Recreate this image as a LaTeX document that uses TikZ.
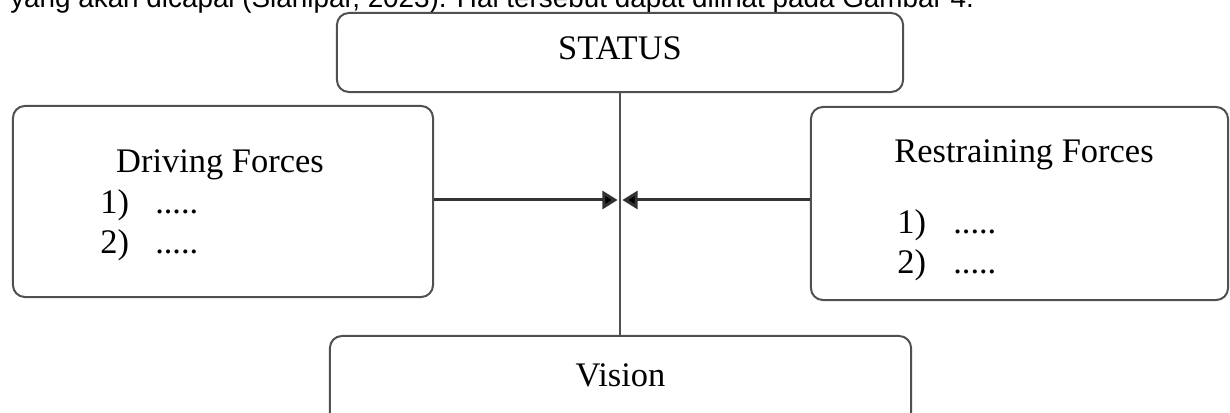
\documentclass[tikz,border=0pt]{standalone}
\usepackage{fontspec}
\setmainfont{Liberation Serif}
\newfontfamily\capfont{Liberation Sans}
\usetikzlibrary{arrows.meta}
\definecolor{boxgray}{HTML}{505050}
\definecolor{forcegray}{HTML}{333333}

\begin{document}
\begin{tikzpicture}[x=0.025cm,y=-0.025cm,
    box/.style={draw=boxgray,line width=0.05cm,rounded corners=0.3cm,inner sep=0pt,text depth=0.2cm},
    txt/.style={font=\fontsize{24.5}{29}\selectfont},
    force/.style={draw=forcegray,line width=0.075cm,-{Triangle[length=0.38cm,width=0.45cm,fill=black]},shorten >=0.06cm},
    axis/.style={draw=boxgray,line width=0.05cm}]
            \useasboundingbox (0,0) rectangle (1230,413);
            \clip (0,0) rectangle (1230,413);
            \node[anchor=base west,inner sep=0pt,font=\capfont\fontsize{19.8}{23}\selectfont] (caption) at (10,7.5) {yang akan dicapai (Slanipar, 2023). Hal tersebut dapat dilihat pada Gambar 4.};
            \node[box,txt,fill=white,minimum width=14.15cm,minimum height=1.975cm] (status) at (620,52.5) {STATUS};
            \node[box,txt,text depth=0.4cm,minimum width=14.525cm,minimum height=2.35cm] (vision) at (620.5,383) {Vision};
            \node[box,minimum width=10.5cm,minimum height=4.775cm] (driving) at (223,201.5) {};
            \node[box,minimum width=10.425cm,minimum height=4.825cm] (restraining) at (1019.5,203.5) {};
            \node[txt,anchor=base] (drivinghead) at (220,173) {Driving Forces};
            \node[txt,anchor=base] (restraininghead) at (1024,163) {Restraining Forces};
            \foreach \i/\yd/\yr in {1/214/233,2/253/273}{
                \node[txt,anchor=base west,inner sep=0pt] (driving\i) at (100,\yd) {\makebox[1.375cm][l]{\i)}.....};
                \node[txt,anchor=base west,inner sep=0pt] (restraining\i) at (897,\yr) {\makebox[1.4cm][l]{\i)}.....};
            }
            \coordinate (meet) at (620,200);
            \draw[axis] (status.south) -- (status.south |- vision.north);
            \draw[force] (driving.east |- meet) -- (meet);
            \draw[force] (restraining.west |- meet) -- (meet);
        \end{tikzpicture}
\end{document}
